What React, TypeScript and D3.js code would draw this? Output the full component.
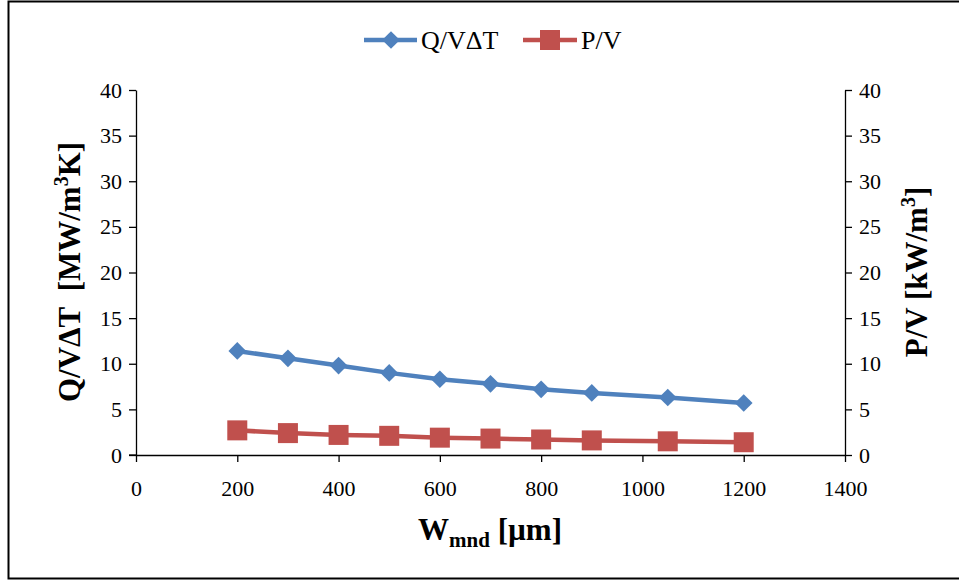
import React, { useEffect, useRef } from "react";
import * as d3 from "d3";

// data
const widths = [200, 300, 400, 500, 600, 700, 800, 900, 1050, 1200];
const heatRate = [11.4, 10.6, 9.8, 9.0, 8.3, 7.8, 7.2, 6.8, 6.3, 5.7];
const power = [2.7, 2.4, 2.2, 2.1, 1.9, 1.8, 1.7, 1.6, 1.5, 1.4];
const xTicks = [0, 200, 400, 600, 800, 1000, 1200, 1400];
const yTicks = [0, 5, 10, 15, 20, 25, 30, 35, 40];

const BLUE = "#4f81bd";
const RED = "#c0504d";

export default function App() {
  const ref = useRef<SVGSVGElement>(null);

  useEffect(() => {
    const svg = d3.select(ref.current);
    svg.selectAll("*").remove();

    const left = 136, right = 845, top = 90, bottom = 455;
    const font = "'Liberation Serif', 'Times New Roman', serif";

    // outer frame
    svg.append("rect")
      .attr("x", 8.5).attr("y", 1.5)
      .attr("width", 960).attr("height", 577)
      .attr("fill", "#fff").attr("stroke", "#000").attr("stroke-width", 2);

    const x = d3.scaleLinear().domain([0, 1400]).range([left, right]);
    const yL = d3.scaleLinear().domain([0, 40]).range([bottom, top]);
    const yR = d3.scaleLinear().domain([0, 40]).range([bottom, top]);

    const styleAxis = (g: any) => {
      g.select(".domain").attr("stroke", "#000").attr("stroke-width", 1.3);
      g.selectAll(".tick line").attr("stroke", "#000").attr("stroke-width", 1.3);
      g.selectAll(".tick text")
        .attr("font-family", font).attr("font-size", 22).attr("fill", "#000");
    };

    svg.append("g")
      .attr("transform", `translate(${left},0)`)
      .call(d3.axisLeft(yL).tickValues(yTicks).tickSize(7).tickSizeOuter(0).tickPadding(7))
      .call(styleAxis);

    svg.append("g")
      .attr("transform", `translate(${right},0)`)
      .call(d3.axisRight(yR).tickValues(yTicks).tickSize(7).tickSizeOuter(0).tickPadding(7))
      .call(styleAxis);

    svg.append("g")
      .attr("transform", `translate(0,${bottom})`)
      .call(d3.axisBottom(x).tickValues(xTicks).tickFormat(d3.format("d")).tickSize(7).tickSizeOuter(0).tickPadding(18))
      .call(styleAxis);

    // extend x axis line left of the y axis
    svg.append("line")
      .attr("x1", left - 7).attr("x2", left)
      .attr("y1", bottom).attr("y2", bottom)
      .attr("stroke", "#000").attr("stroke-width", 1.3);

    const lineL = d3.line<number>().x((_, i) => x(widths[i])).y(d => yL(d));
    const lineR = d3.line<number>().x((_, i) => x(widths[i])).y(d => yR(d));

    svg.append("path").datum(heatRate).attr("d", lineL)
      .attr("fill", "none").attr("stroke", BLUE).attr("stroke-width", 4.5);
    svg.append("path").datum(power).attr("d", lineR)
      .attr("fill", "none").attr("stroke", RED).attr("stroke-width", 4.5);

    const diamond = d3.symbol().type(d3.symbolDiamond2).size(200);
    svg.selectAll(".dq").data(heatRate).enter().append("path")
      .attr("d", diamond)
      .attr("transform", (d, i) => `translate(${x(widths[i])},${yL(d)})`)
      .attr("fill", BLUE);

    svg.selectAll(".sp").data(power).enter().append("rect")
      .attr("x", (_, i) => x(widths[i]) - 10)
      .attr("y", d => yR(d) - 10)
      .attr("width", 20).attr("height", 20)
      .attr("fill", RED);

    // legend
    const lg = svg.append("g");
    lg.append("line").attr("x1", 364).attr("x2", 417).attr("y1", 40).attr("y2", 40)
      .attr("stroke", BLUE).attr("stroke-width", 4.5);
    lg.append("path").attr("d", diamond).attr("transform", "translate(391,40)").attr("fill", BLUE);
    lg.append("text").attr("x", 421).attr("y", 49).text("Q/VΔT")
      .attr("font-family", font).attr("font-size", 26);
    lg.append("line").attr("x1", 523).attr("x2", 577).attr("y1", 40).attr("y2", 40)
      .attr("stroke", RED).attr("stroke-width", 4.5);
    lg.append("rect").attr("x", 540).attr("y", 30).attr("width", 20).attr("height", 20).attr("fill", RED);
    lg.append("text").attr("x", 581).attr("y", 49).text("P/V")
      .attr("font-family", font).attr("font-size", 26);

    // axis titles
    const lt = svg.append("text")
      .attr("transform", "translate(80,272) rotate(-90)")
      .attr("text-anchor", "middle")
      .attr("font-family", font).attr("font-size", 31).attr("font-weight", "bold")
      .attr("xml:space", "preserve");
    lt.append("tspan").text("Q/VΔT\u00a0 [MW/m");
    lt.append("tspan").text("3").attr("font-size", 20).attr("dy", -12);
    lt.append("tspan").text("K]").attr("dy", 12);

    const rt = svg.append("text")
      .attr("transform", "translate(927,272) rotate(-90)")
      .attr("text-anchor", "middle")
      .attr("font-family", font).attr("font-size", 31).attr("font-weight", "bold");
    rt.append("tspan").text("P/V [kW/m");
    rt.append("tspan").text("3").attr("font-size", 20).attr("dy", -12);
    rt.append("tspan").text("]").attr("dy", 12);

    const xt = svg.append("text")
      .attr("x", 490).attr("y", 540)
      .attr("text-anchor", "middle")
      .attr("font-family", font).attr("font-size", 31).attr("font-weight", "bold");
    xt.append("tspan").text("W");
    xt.append("tspan").text("mnd").attr("font-size", 21).attr("dy", 7);
    xt.append("tspan").text(" [µm]").attr("dy", -7);
  }, []);

  return (
    <svg ref={ref} width={959} height={581}
      style={{ position: "absolute", left: 0, top: 0, background: "#fff" }} />
  );
}
